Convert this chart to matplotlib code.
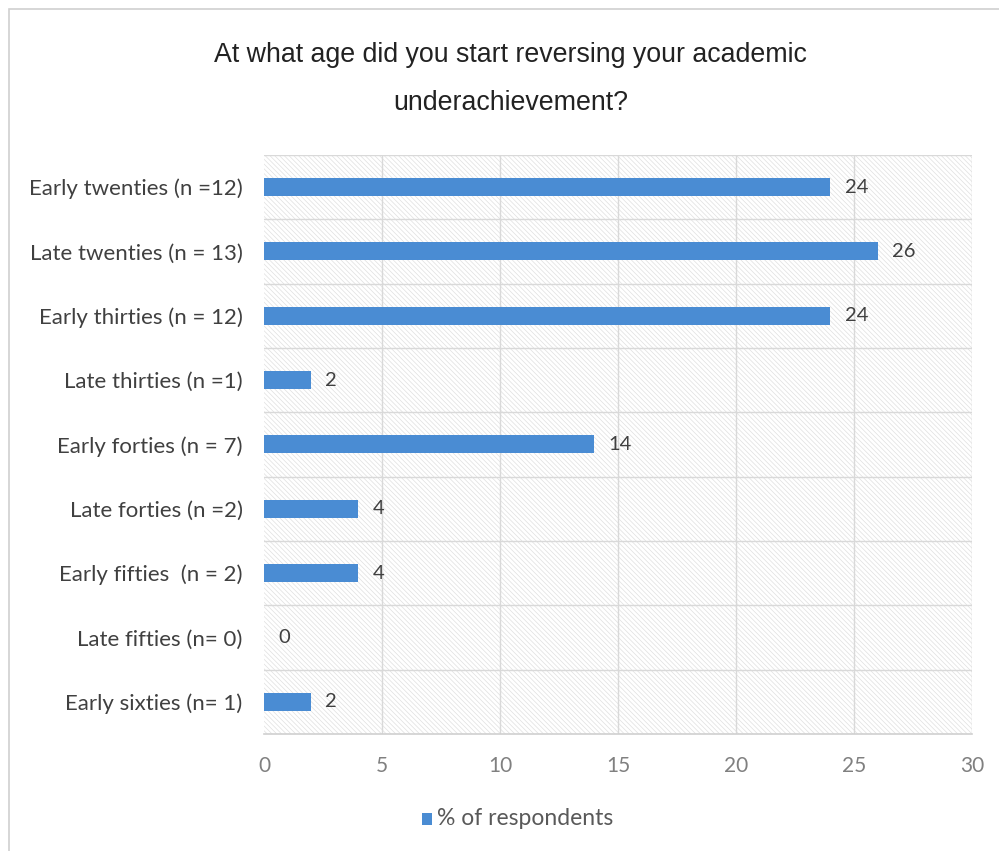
import numpy as np
import matplotlib
matplotlib.use('Agg')
import matplotlib.pyplot as plt
from matplotlib.patches import Rectangle

matplotlib.rcParams['font.family'] = ['Lato', 'DejaVu Sans']
matplotlib.rcParams['hatch.linewidth'] = 0.5

categories = ['Early twenties (n =12)', 'Late twenties (n = 13)', 'Early thirties (n = 12)',
              'Late thirties (n =1)', 'Early forties (n = 7)', 'Late forties (n =2)',
              'Early fifties  (n = 2)', 'Late fifties (n= 0)', 'Early sixties (n= 1)']
percent = [24, 26, 24, 2, 14, 4, 4, 0, 2]
xticks = [0, 5, 10, 15, 20, 25, 30]

bar_color = '#4a8cd3'
grid_color = '#d9d9d9'

fig = plt.figure(figsize=(9.99, 8.51), dpi=100)

# outer chart frame
fig.patches.append(Rectangle((0.009, -0.01), 1.1, 1.0, transform=fig.transFigure,
                             fill=False, edgecolor='#d0d0d0', linewidth=1.2))

ax = fig.add_axes([0.2643, 0.1375, 0.7087, 0.6804])
n = len(categories)
y = np.arange(n)

# hatched plot area background
ax.add_patch(Rectangle((0, -0.5), 30, n, facecolor='white', edgecolor='#e0e0e0',
                       hatch='\\' * 7, linewidth=0, zorder=0))

ax.barh(y, percent, height=0.28, color=bar_color, zorder=3)
for yi, v in zip(y, percent):
    ax.text(v + 0.6, yi, f'{v}', va='center', ha='left', fontsize=14.5,
            color='#404040', zorder=4)

ax.set_xlim(0, 30)
ax.set_ylim(n - 0.5, -0.5)
ax.set_yticks(y)
ax.set_yticklabels(categories, fontsize=16, color='#404040')
ax.set_xticks(xticks)
ax.set_xticklabels([str(t) for t in xticks], fontsize=15, color='#808080')
ax.tick_params(axis='both', length=0)
ax.tick_params(axis='y', pad=15.5)
ax.tick_params(axis='x', pad=16)

for xv in xticks[1:]:
    ax.axvline(xv, color=grid_color, linewidth=1, zorder=1)
for b in np.arange(-0.5, n - 0.5, 1.0):
    ax.axhline(b, color=grid_color, linewidth=1, zorder=1)

for s in ['top', 'right', 'left']:
    ax.spines[s].set_visible(False)
ax.spines['bottom'].set_color('#d0d0d0')
ax.spines['bottom'].set_linewidth(1.2)

title_font = ['Liberation Sans Narrow', 'Liberation Sans', 'DejaVu Sans']
fig.text(0.511, 0.935, 'At what age did you start reversing your academic',
         ha='center', va='center', fontsize=19.3, color='#222222', family=title_font)
fig.text(0.511, 0.879, 'underachievement?',
         ha='center', va='center', fontsize=19.3, color='#222222', family=title_font)

# legend entry
fig.patches.append(Rectangle((0.422, 0.031), 0.010, 0.014, transform=fig.transFigure,
                             facecolor=bar_color, edgecolor='none'))
fig.text(0.437, 0.038, '% of respondents', ha='left', va='center',
         fontsize=16.5, color='#595959')

fig.savefig('out.png', dpi=100)
